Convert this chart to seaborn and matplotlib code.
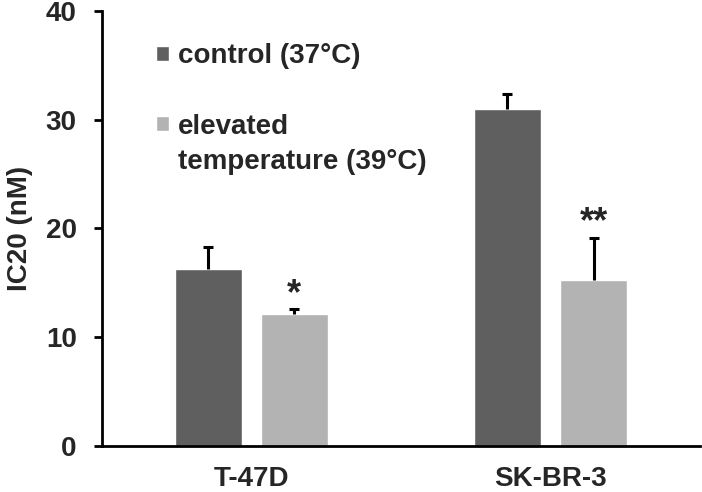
import numpy as np
import pandas as pd
import matplotlib
matplotlib.use("Agg")
import matplotlib.pyplot as plt
import seaborn as sns
from matplotlib.patches import Rectangle

# Werte
cell_lines = ["T-47D", "SK-BR-3"]
conditions = ["control (37°C)", "elevated\ntemperature (39°C)"]
control_ic20 = [16.3, 30.95]
elevated_ic20 = [12.1, 15.25]
control_err = [1.95, 1.4]
elevated_err = [0.5, 3.85]
stars = ["*", "**"]

dark = "#5f5f5f"
light = "#b3b3b3"

df = pd.DataFrame({
    "cell": cell_lines * 2,
    "condition": [conditions[0]] * 2 + [conditions[1]] * 2,
    "ic20": control_ic20 + elevated_ic20,
})

sns.set_style("white")
plt.rcParams["font.family"] = ["Liberation Sans", "DejaVu Sans"]
plt.rcParams["font.weight"] = "bold"

fig = plt.figure(figsize=(7.02, 4.92), dpi=100)
ax = fig.add_axes([0.1449, 0.0935, 0.8525, 0.8847])

sns.barplot(data=df, x="cell", y="ic20", hue="condition",
            palette=[dark, light], width=0.576, gap=0.222,
            errorbar=None, saturation=1, ax=ax)

# Fehlerbalken nur nach oben
for cont, errs in zip(ax.containers, [control_err, elevated_err]):
    xs = np.array([b.get_x() + b.get_width() / 2 for b in cont])
    ys = np.array([b.get_height() for b in cont])
    errs = np.array(errs)
    ax.errorbar(xs, ys, yerr=[np.zeros(len(errs)), errs], fmt="none",
                ecolor="black", elinewidth=2.2, capsize=0)
    ax.plot(xs, ys + errs, ls="none", marker="_", markersize=7.5,
            mew=2.2, color="black")

# Sternchen ueber den erhoehten Balken
elev = ax.containers[1]
star_gap = [0.45, 0.55]
for b, err, s, g in zip(elev, elevated_err, stars, star_gap):
    ax.text(b.get_x() + b.get_width() / 2, b.get_height() + err + g, s,
            ha="center", va="baseline", fontsize=26, fontweight="bold")

ax.set_ylim(0, 40)
ax.set_xlim(-0.5, 1.5)
ax.set_yticks([0, 10, 20, 30, 40])
ax.set_xlabel("")
ax.set_ylabel("IC20 (nM)", fontsize=20, fontweight="bold")
ax.yaxis.set_label_coords(-0.115, 0.5)

sns.despine(ax=ax)
for sp in ["left", "bottom"]:
    ax.spines[sp].set_linewidth(2)
    ax.spines[sp].set_color("black")
ax.tick_params(axis="y", direction="out", length=6, width=2, pad=12,
               labelsize=20, left=True, color="black")
ax.tick_params(axis="x", length=0, pad=14.5, labelsize=20)
for t in ax.get_xticklabels() + ax.get_yticklabels():
    t.set_fontweight("bold")

# Legende: erster Eintrag, Leerzeile, zweiter Eintrag ueber zwei Zeilen
handles, labels = ax.get_legend_handles_labels()
ax.get_legend().remove()
blank = Rectangle((0, 0), 1, 1, fc="none", ec="none")
lines2 = conditions[1].split("\n")
leg = ax.legend([handles[0], blank, handles[1], blank],
                [conditions[0], " ", lines2[0], lines2[1]],
                loc="upper left", bbox_to_anchor=(0.09, 0.925),
                frameon=False, borderpad=0, borderaxespad=0,
                handlelength=0.47, handleheight=0.47, handletextpad=0.32,
                labelspacing=0.33, prop={"size": 20, "weight": "bold"})

fig.savefig("out.png", dpi=100)
